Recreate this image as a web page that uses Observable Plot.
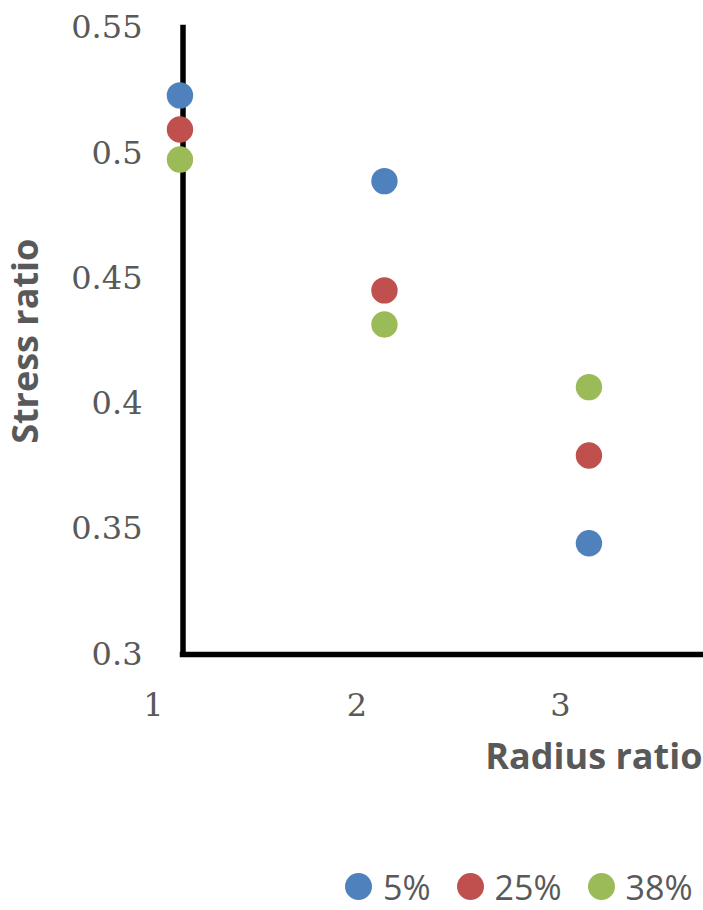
<!DOCTYPE html>
<html>
<head>
<meta charset="utf-8">
<script src="https://cdn.jsdelivr.net/npm/d3@7"></script>
<script src="https://cdn.jsdelivr.net/npm/@observablehq/plot@0.6"></script>
<style>
  html, body { margin: 0; padding: 0; background: #fff; overflow: hidden; }
  #chart svg { display: block; }
  #legend { display: flex; align-items: center; height: 41px; padding-left: 345px; line-height: 1;
            font-family: "Open Sans", sans-serif; font-size: 34px; color: #595959; }
  .item { display: flex; align-items: center; margin-right: 26px; }
  .sw { width: 27px; height: 27px; border-radius: 50%; margin-right: 11px; }
</style>
</head>
<body>
<div id="chart"></div>
<div id="legend"></div>
<script>
// Data
const radiusRatio = [1.13, 2.135, 3.14];
const seriesNames = ["5%", "25%", "38%"];
const stress5 = [0.5231, 0.4889, 0.3444];
const stress25 = [0.5095, 0.4453, 0.3794];
const stress38 = [0.4975, 0.4317, 0.4067];
const seriesColors = ["#4F81BD", "#C0504D", "#9BBB59"];
const xTicks = [1, 2, 3];
const yTicks = [0.3, 0.35, 0.4, 0.45, 0.5, 0.55];
const xDomain = [1, 3.703];
const yDomain = [0.3, 0.55];
const axisCross = 1.145;
const xTitle = "Radius ratio";
const yTitle = "Stress ratio";

const allSeries = [stress5, stress25, stress38];
const rows = [];
allSeries.forEach((vals, s) => vals.forEach((v, i) => rows.push({x: radiusRatio[i], y: v, series: seriesNames[s]})));

const W = 703, H = 866;
const chart = Plot.plot({
  width: W,
  height: H,
  marginLeft: 153,
  marginRight: 0,
  marginTop: 27.5,
  marginBottom: H - 654,
  style: {fontFamily: "DejaVu Serif", fontSize: "32px", color: "#595959", background: "#fff"},
  x: {domain: xDomain, ticks: xTicks, tickSize: 0, tickPadding: 39, tickFormat: d => String(d), label: null, line: false},
  y: {domain: yDomain, ticks: yTicks, tickSize: 0, tickPadding: 11, tickFormat: d => String(d), label: null, line: false},
  color: {domain: seriesNames, range: seriesColors},
  marks: [
    Plot.ruleX([axisCross], {y1: yDomain[0], y2: yDomain[1], stroke: "#000", strokeWidth: 5.5, strokeLinecap: "square"}),
    Plot.ruleY([yDomain[0]], {x1: axisCross, x2: xDomain[1], stroke: "#000", strokeWidth: 5.5, strokeLinecap: "square"}),
    Plot.dot(rows, {x: "x", y: "y", fill: "series", r: 13.2, stroke: null}),
    Plot.text([xTitle], {frameAnchor: "bottom-right", text: d => d, textAnchor: "end", dx: -1, dy: 114,
      fontFamily: "Open Sans", fontWeight: "bold", fontSize: 36, fill: "#595959"}),
    Plot.text([yTitle], {frameAnchor: "left", text: d => d, textAnchor: "middle", rotate: -90, dx: -127,
      fontFamily: "Open Sans", fontWeight: "bold", fontSize: 36, fill: "#595959"})
  ]
});
document.getElementById("chart").appendChild(chart);

const legend = document.getElementById("legend");
seriesNames.forEach((name, i) => {
  const item = document.createElement("div");
  item.className = "item";
  const sw = document.createElement("span");
  sw.className = "sw";
  sw.style.background = seriesColors[i];
  const label = document.createElement("span");
  label.textContent = name;
  item.appendChild(sw);
  item.appendChild(label);
  legend.appendChild(item);
});
</script>
</body>
</html>
